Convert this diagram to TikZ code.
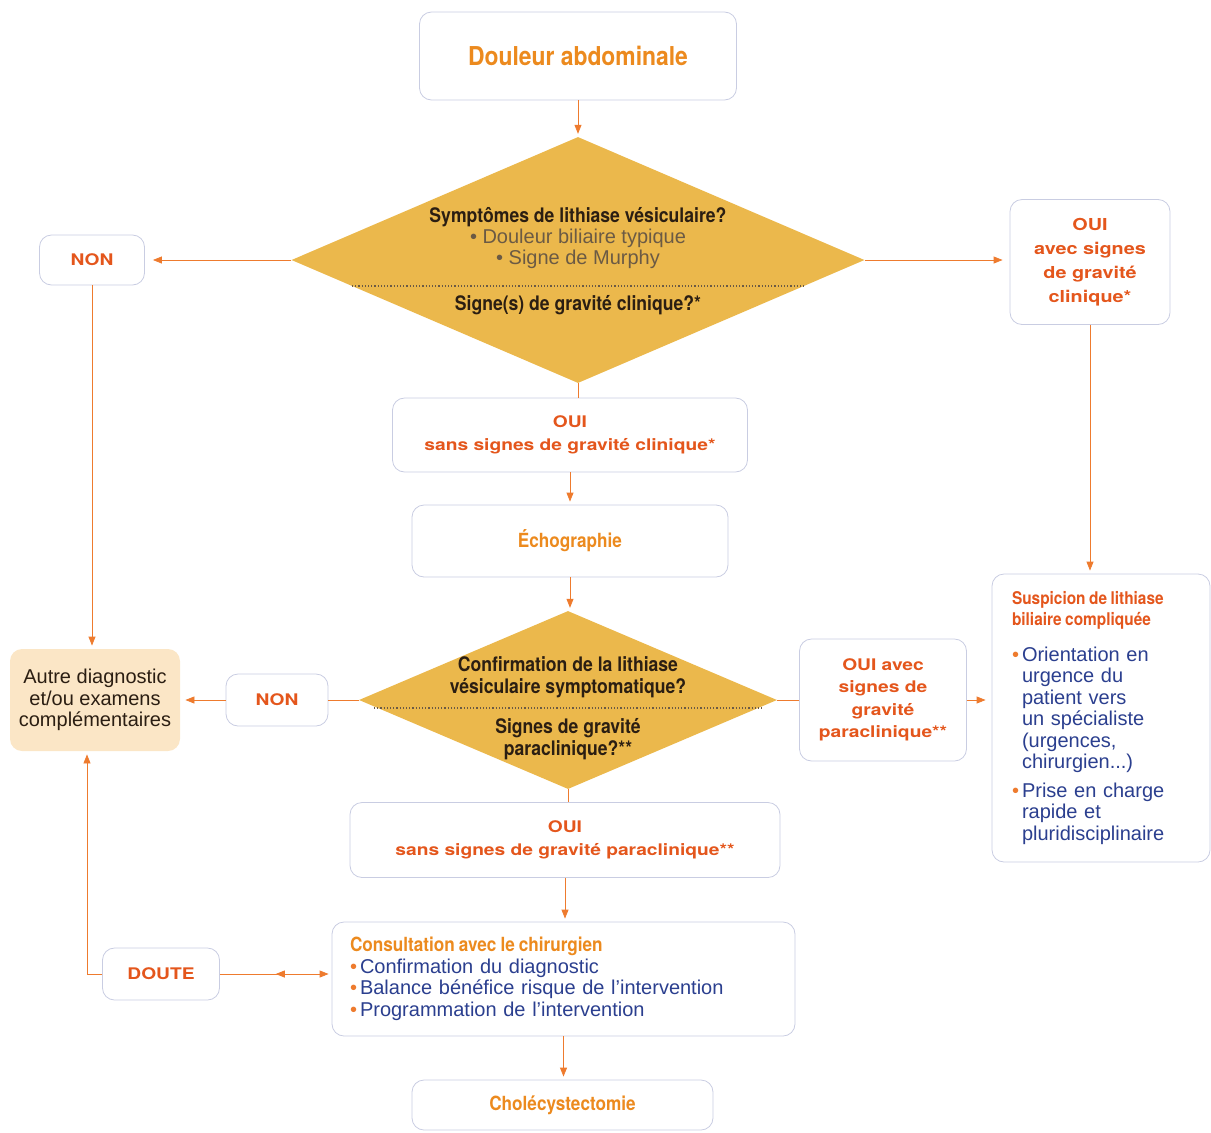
\documentclass[tikz,border=0pt]{standalone}
\usepackage{fontspec}
\setmainfont{Liberation Sans}
\newfontfamily\condfont[FakeStretch=0.88]{TeX Gyre Heros}
\newfontfamily\labfont[FakeStretch=1.2]{TeX Gyre Heros}
\usepackage{tikz}
\usetikzlibrary{positioning,shapes.geometric,arrows.meta,decorations.markings,calc}
\definecolor{arrorange}{HTML}{EE7B2E}
\definecolor{titorange}{HTML}{EC8A1E}
\definecolor{labred}{HTML}{E4561C}
\definecolor{diamfill}{HTML}{EBB84C}
\definecolor{bluetxt}{HTML}{2B3F8F}
\definecolor{darktxt}{HTML}{2B1E12}
\definecolor{graytxt}{HTML}{6B5A44}
\definecolor{peach}{HTML}{FBE6C6}
\definecolor{boxline}{HTML}{C9CDE2}
\newcommand\blt{\makebox[10pt][l]{\textcolor{arrorange}{\textbullet}}}
\newcommand\ind{\hspace*{10pt}}

\begin{document}
\begin{tikzpicture}[x=1pt,y=-1pt,
  box/.style={draw=boxline,line width=.8pt,rounded corners=12pt,fill=white,inner sep=0pt,align=center},
  lab/.style={font=\labfont\bfseries\fontsize{16}{23.5}\selectfont,text=labred},
  titl/.style={font=\condfont\bfseries\fontsize{19.5}{22}\selectfont,text=titorange},
  body/.style={font=\fontsize{20}{21.5}\selectfont},
  link/.style={color=arrorange,line width=.8pt},
  arr/.style={link,-{Triangle[length=9pt,width=7pt]},shorten >=3pt},
  midtip/.style={postaction={decorate},decoration={markings,
    mark=at position .5 with {\arrowreversed{Triangle[length=9pt,width=7pt]}}}},
  qtext/.style={align=center,text=darktxt,font=\condfont\bfseries\fontsize{20}{22}\selectfont}]
\useasboundingbox (0,0) rectangle (1211,1133);

\node[box, titl, font=\condfont\bfseries\fontsize{26}{28}\selectfont, minimum width=317pt, minimum height=88pt] (douleur) at (578,56) {Douleur abdominale};

\node[diamond, fill=diamfill, inner sep=0pt, minimum width=573pt, minimum height=246pt] (d1) at (578,260) {};
\draw[graytxt, line width=1.2pt, dotted] (352,286) -- (804,286);
\node[qtext, font=\fontsize{20}{21}\selectfont] (d1q) at (578,238) {{\condfont\bfseries Symptômes de lithiase vésiculaire?}\\
  \textcolor{graytxt}{\textbullet\ Douleur biliaire typique}\\ \textcolor{graytxt}{\textbullet\ Signe de Murphy}};
\node[qtext] (d1g) at (578,305) {Signe(s) de gravité clinique?*};

\node[box, lab, minimum width=105pt, minimum height=50pt] (non1) at (92,260) {NON};
\node[box, lab, font=\labfont\bfseries\fontsize{16.5}{24}\selectfont, minimum width=160pt, minimum height=125pt] (oac) at (1090,262) {OUI\\avec signes\\de gravité\\clinique*};
\node[box, lab, minimum width=355pt, minimum height=74pt] (ouis1) at (570,435) {OUI\\sans signes de gravité clinique*};
\node[box, titl, minimum width=316pt, minimum height=72pt] (echo) at (570,541) {Échographie};

\node[diamond, fill=diamfill, inner sep=0pt, minimum width=418pt, minimum height=178pt] (d2) at (568,700) {};
\draw[graytxt, line width=1.2pt, dotted] (374,708) -- (764,708);
\node[qtext] (d2q) at (568,677) {Confirmation de la lithiase\\vésiculaire symptomatique?};
\node[qtext] (d2g) at (568,739) {Signes de gravité\\paraclinique?**};

\node[box, draw=none, fill=peach, body, text=darktxt, minimum width=170pt, minimum height=102pt] (autre) at (95,700) {Autre diagnostic\\et/ou examens\\complémentaires};
\node[box, lab, minimum width=102pt, minimum height=52pt] (non2) at (277,700) {NON};
\node[box, lab, font=\labfont\bfseries\fontsize{16}{22.5}\selectfont, minimum width=167pt, minimum height=122pt] (oap) at (883,700) {OUI avec\\signes de\\gravité\\paraclinique**};
\node[box, body, text=bluetxt, align=left, text width=178pt, minimum width=218pt, minimum height=288pt] (susp) at (1101,718) {{\condfont\bfseries\fontsize{17.5}{21}\selectfont\spaceskip=3.5pt plus 1pt\color{labred}Suspicion de lithiase\\ biliaire compliquée}\\[14pt]
  \blt Orientation en\\ \ind urgence du\\ \ind patient vers\\ \ind un spécialiste\\ \ind (urgences,\\ \ind chirurgien...)\\[7pt]
  \blt Prise en charge\\ \ind rapide et\\ \ind pluridisciplinaire};

\node[box, lab, minimum width=430pt, minimum height=75pt] (ouis2) at (565,840) {OUI\\sans signes de gravité paraclinique**};
\node[box, body, text=bluetxt, align=left, text width=427pt, minimum width=463pt, minimum height=114pt] (consult) at (563.5,979) {{\condfont\bfseries\fontsize{19.5}{21}\selectfont\spaceskip=4pt plus 1pt\color{titorange}Consultation avec le chirurgien}\\
  \blt Confirmation du diagnostic\\ \blt Balance bénéfice risque de l'intervention\\ \blt Programmation de l'intervention};
\node[box, lab, minimum width=117pt, minimum height=52pt] (doute) at (161,974) {DOUTE};
\node[box, titl, minimum width=301pt, minimum height=50pt] (chole) at (562.5,1105) {Cholécystectomie};

\draw[arr] (douleur) -- (d1);
\draw[arr, shorten >=8pt] (d1) -- (non1);
\draw[arr, shorten >=7pt] (d1.east) -- (d1.east -| oac.west);
\draw[arr] (oac) -- (oac |- susp.north);
\draw[link] (d1.south) -- (d1.south |- ouis1.north);
\draw[arr] (ouis1) -- (echo);
\draw[arr] (echo.south) -- (echo.south |- d2.north);
\draw[link] (d2) -- (non2);
\draw[arr, shorten >=5pt] (non2) -- (autre);
\draw[arr] (non1) -- (non1 |- autre.north);
\draw[link] (d2) -- (oap);
\draw[arr, shorten >=6pt] (oap) -- (oap -| susp.west);
\draw[link] (d2.south) -- (d2.south |- ouis2.north);
\draw[arr] (ouis2.south) -- (ouis2.south |- consult.north);
\draw[arr] (consult.south) -- (consult.south |- chole.north);
\coordinate (dl) at (87,974);
\draw[arr] (doute) -- (dl) -- (dl |- autre.south);
\draw[arr, midtip] (doute.east) -- (doute.east -| consult.west);
\end{tikzpicture}
\end{document}
